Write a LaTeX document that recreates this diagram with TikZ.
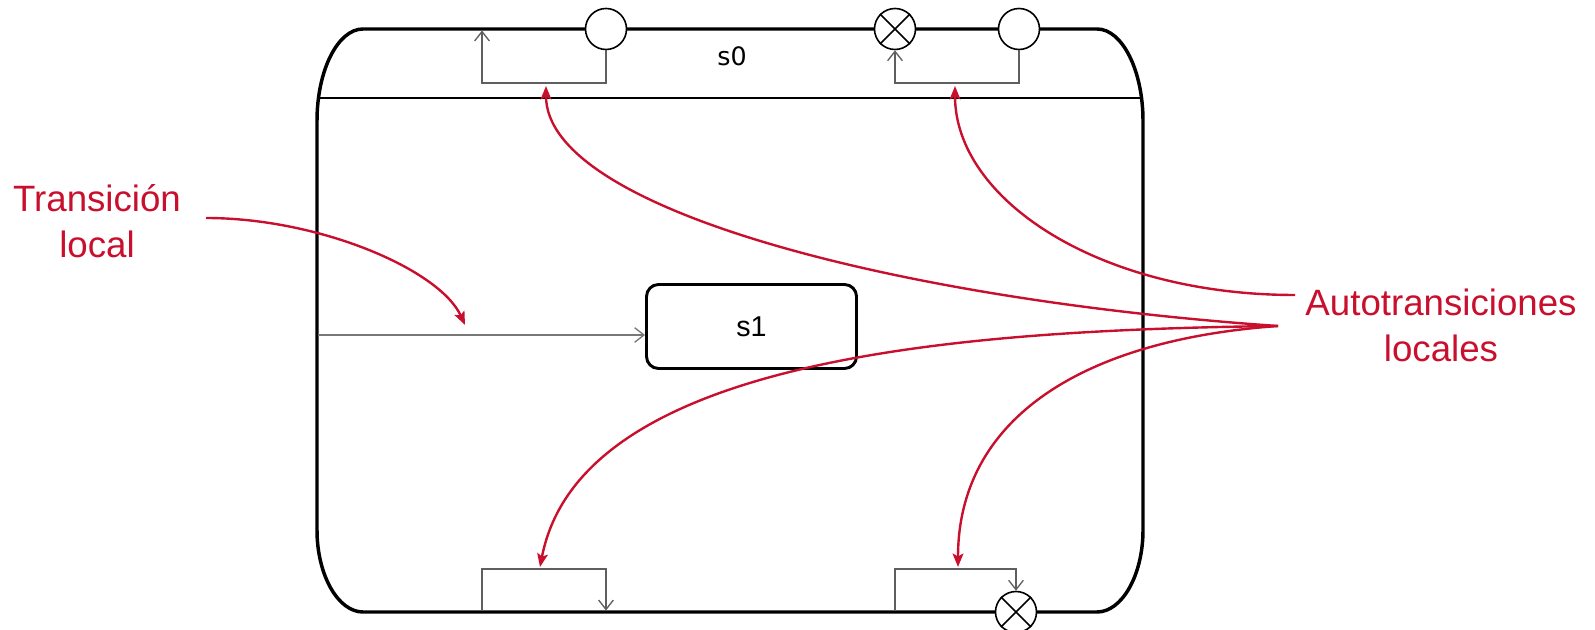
\documentclass[tikz,border=0pt]{standalone}
\usepackage{fontspec}
\setmainfont{Liberation Sans}
\newfontfamily\dejavu{DejaVu Sans}
\usetikzlibrary{arrows.meta}
\definecolor{accent}{RGB}{200,16,46}
\definecolor{trgray}{RGB}{95,95,95}
\definecolor{ingray}{RGB}{120,120,120}
\begin{document}
\begin{tikzpicture}[x=0.75pt,y=-0.75pt,
  pseudo/.style={circle,draw=black,fill=white,line width=1.2pt,minimum size=30.75pt,inner sep=0pt},
  trans/.style={draw=trgray,line width=1pt,-{Straight Barb[length=7pt,width=11pt,line width=1pt]}},
  note/.style={text=accent,font=\fontsize{27.5}{34.5}\selectfont,align=center},
  callout/.style={draw=accent,line width=1.8pt,-{Stealth[length=10pt,width=8pt,inset=2pt]}},
  statebox/.style={draw=black,line width=2.2pt,rounded corners=9pt,minimum width=157.5pt,minimum height=63pt,font=\fontsize{21.5}{24}\selectfont}
  ]
\useasboundingbox (0,0) rectangle (1595,630);
% outer composite state
\draw[line width=2.6pt] (363,29) -- (1097,29) .. controls (1122,29) and (1143,70) .. (1143,121)
  -- (1143,530) .. controls (1143,575) and (1122,612) .. (1097,612)
  -- (363,612) .. controls (338,612) and (317,575) .. (317,530)
  -- (317,121) .. controls (317,70) and (338,29) .. cycle;
\draw[line width=1pt] (318.5,98) -- (1141.5,98);
\node[font=\dejavu\fontsize{19}{22}\selectfont] (s0label) at (732,56) {s0};
% inner state
\node[statebox] (s1) at (751.5,326.5) {s1};
% pseudo states
\node[pseudo] (h1) at (606,29) {};
\node[pseudo] (x1) at (895,29) {};
\node[pseudo] (h2) at (1019,29) {};
\node[pseudo] (x2) at (1016,612) {};
\draw[line width=1.2pt] (x1.north west) -- (x1.south east) (x1.north east) -- (x1.south west);
\draw[line width=1.2pt] (x2.north west) -- (x2.south east) (x2.north east) -- (x2.south west);
% self transitions
\coordinate (tlend) at (482,30.5);
\coordinate (bl1) at (482,611);
\coordinate (bl2) at (606,610.5);
\coordinate (br1) at (895,611);
\draw[trans] (h1.south) |- (482,83) -- (tlend);
\draw[trans] (h2.south) |- (895,83) -- (x1.south);
\draw[trans] (bl1) |- (606,569) -- (bl2);
\draw[trans] (br1) -- (895,569) -| (x2.north);
% local transition
\coordinate (inn) at (318,335);
\draw[trans,draw=ingray] (inn) -- (s1.west |- inn);
% notes
\node[note] (tnote) at (97,221) {Transición\\local};
\node[note] (anote) at (1441,325) {Autotransiciones\\locales};
\coordinate (tstart) at (206,218);
\coordinate (a1) at (1295,295);
\coordinate (a2) at (1278,326);
\coordinate (e1) at (955,86);
\coordinate (e2) at (546,86);
\coordinate (e3) at (540,567);
\coordinate (e4) at (958,567);
\coordinate (e5) at (465,325);
\draw[callout] (tstart) .. controls (320,218) and (440,270) .. (e5);
\draw[callout] (a1) .. controls (1100,295) and (955,200) .. (e1);
\draw[callout] (a2) .. controls (900,300) and (546,210) .. (e2);
\draw[callout] (a2) .. controls (950,330) and (580,360) .. (e3);
\draw[callout] (a2) .. controls (1080,340) and (958,420) .. (e4);
\end{tikzpicture}
\end{document}
